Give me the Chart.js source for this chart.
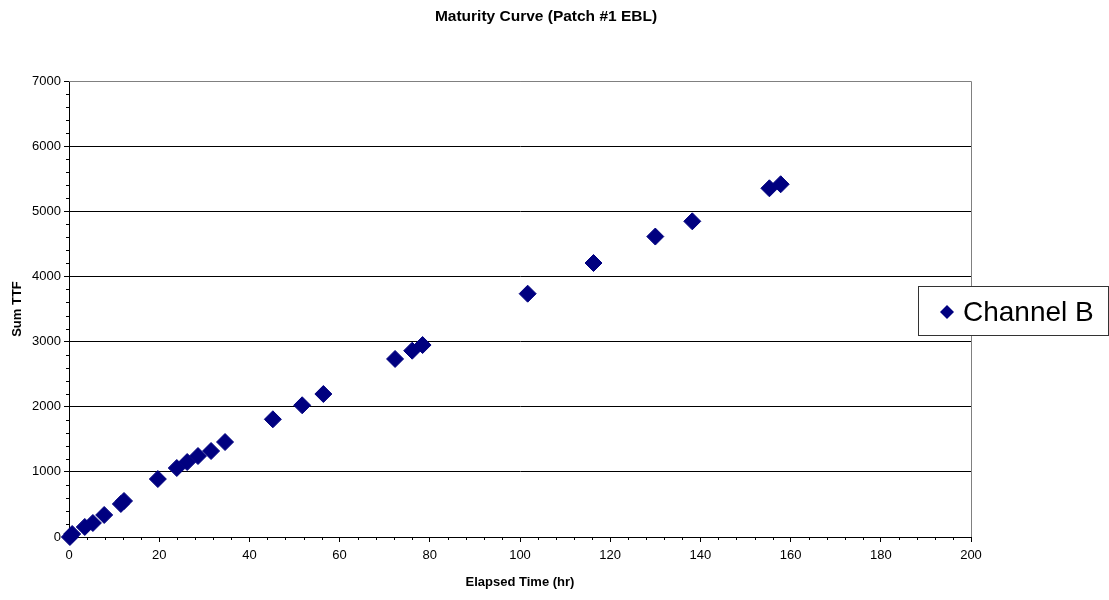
<!DOCTYPE html>
<html>
<head>
<meta charset="utf-8">
<script src="https://cdn.jsdelivr.net/npm/chart.js@4/dist/chart.umd.min.js"></script>
<style>
  html, body { margin: 0; padding: 0; background: #fff; }
  #wrap { width: 1109px; height: 600px; position: relative; }
</style>
</head>
<body>
<div id="wrap"><canvas id="chart"></canvas></div>
<script>
const seriesName = 'Channel B'
const elapsedHours = [0.2, 0.7, 3.5, 5.3, 7.8, 11.5, 12.2, 19.7, 23.9, 26.2, 28.6, 31.5, 34.6,
    45.2, 51.7, 56.4, 72.3, 76.1, 78.4, 101.7, 116.3, 130.0, 138.2, 155.3, 157.8]
const sumTTF = [0, 46, 154, 215, 338, 507, 553, 890, 1059, 1151, 1243, 1320, 1458,
    1807, 2022, 2195, 2733, 2860, 2947, 3735, 4206, 4612, 4846, 5353, 5415]
const xTicks = [0, 20, 40, 60, 80, 100, 120, 140, 160, 180, 200]
const yTicks = [0, 1000, 2000, 3000, 4000, 5000, 6000, 7000]

const navy = '#000080'
const fontFamily = 'Arial, "Liberation Sans", sans-serif'

// minor ticks, gray frame and the boxed legend
const excelLook = {
    id: 'excelLook',
    beforeDatasetsDraw(chart) {
        const {ctx, chartArea: a, scales: {x, y}} = chart
        ctx.save()
        ctx.strokeStyle = '#808080'
        ctx.lineWidth = 1
        ctx.beginPath()
        ctx.moveTo(a.left, a.top + 0.5)
        ctx.lineTo(a.right + 0.5, a.top + 0.5)
        ctx.lineTo(a.right + 0.5, a.bottom)
        ctx.stroke()

        ctx.strokeStyle = '#000'
        ctx.beginPath()
        for (let v = 0; v <= 200; v += 4) {
            if (v % 20 === 0) continue
            const px = Math.round(x.getPixelForValue(v)) + 0.5
            ctx.moveTo(px, a.bottom)
            ctx.lineTo(px, a.bottom + 3)
        }
        for (let v = 0; v <= 7000; v += 200) {
            if (v % 1000 === 0) continue
            const py = Math.round(y.getPixelForValue(v)) + 0.5
            ctx.moveTo(a.left, py)
            ctx.lineTo(a.left - 3, py)
        }
        ctx.stroke()
        ctx.restore()
    },
    afterDraw(chart) {
        const {ctx} = chart
        ctx.save()
        // legend box
        ctx.strokeStyle = '#333'
        ctx.fillStyle = '#fff'
        ctx.fillRect(918.5, 286.5, 190, 49)
        ctx.strokeRect(918.5, 286.5, 190, 49)
        const cx = 947, cy = 312, r = 7
        ctx.fillStyle = navy
        ctx.beginPath()
        ctx.moveTo(cx, cy - r)
        ctx.lineTo(cx + r, cy)
        ctx.lineTo(cx, cy + r)
        ctx.lineTo(cx - r, cy)
        ctx.closePath()
        ctx.fill()
        ctx.fillStyle = '#000'
        ctx.font = '28px ' + fontFamily
        ctx.textBaseline = 'middle'
        ctx.fillText(chart.data.datasets[0].label, 963, cy + 1)
        ctx.restore()
    }
}

new Chart(document.getElementById('chart'), {
    type: 'scatter',
    data: {
        datasets: [{
            label: seriesName,
            data: elapsedHours.map((h, i) => ({x: h, y: sumTTF[i]})),
            pointStyle: 'rectRot',
            pointRadius: 8.5,
            pointHoverRadius: 8.5,
            backgroundColor: navy,
            borderColor: navy,
            borderWidth: 1,
            clip: false
        }]
    },
    options: {
        responsive: true,
        maintainAspectRatio: false,
        animation: false,
        layout: {padding: {left: 0, right: 17, top: 0, bottom: 0}},
        plugins: {
            legend: {display: false},
            tooltip: {enabled: false},
            title: {
                display: true,
                text: 'Maturity Curve (Patch #1 EBL)',
                color: '#000',
                font: {family: fontFamily, size: 15.5, weight: 'bold'},
                padding: {top: 7, bottom: 55.4}
            }
        },
        scales: {
            x: {
                type: 'linear',
                min: 0,
                max: 200,
                afterBuildTicks: s => { s.ticks = xTicks.map(v => ({value: v})) },
                afterFit: s => { s.height = 63 },
                border: {color: '#000', width: 1},
                grid: {drawOnChartArea: false, tickLength: 5, tickColor: '#000'},
                ticks: {color: '#000', padding: 6, font: {family: fontFamily, size: 13},
                    callback: v => String(v)},
                title: {
                    display: true,
                    text: 'Elapsed Time (hr)',
                    color: '#000',
                    font: {family: fontFamily, size: 13, weight: 'bold'},
                    padding: {top: 0, bottom: 10}
                }
            },
            y: {
                type: 'linear',
                min: 0,
                max: 7000,
                afterBuildTicks: s => { s.ticks = yTicks.map(v => ({value: v})) },
                afterFit: s => { s.width = 69 },
                border: {color: '#000', width: 1},
                grid: {
                    color: c => c.tick && c.tick.value === 7000 ? '#808080' : '#000',
                    tickColor: '#000',
                    tickLength: 5
                },
                ticks: {color: '#000', padding: 3, font: {family: fontFamily, size: 13},
                    callback: v => String(v)},
                title: {
                    display: true,
                    text: 'Sum TTF',
                    color: '#000',
                    font: {family: fontFamily, size: 13, weight: 'bold'},
                    padding: {top: 10, bottom: 0}
                }
            },
            // empty strip on the right where the legend box sits
            spacer: {
                type: 'linear',
                position: 'right',
                display: true,
                afterFit: s => { s.width = 121 },
                grid: {display: false},
                border: {display: false},
                ticks: {display: false}
            }
        }
    },
    plugins: [excelLook]
})
</script>
</body>
</html>
